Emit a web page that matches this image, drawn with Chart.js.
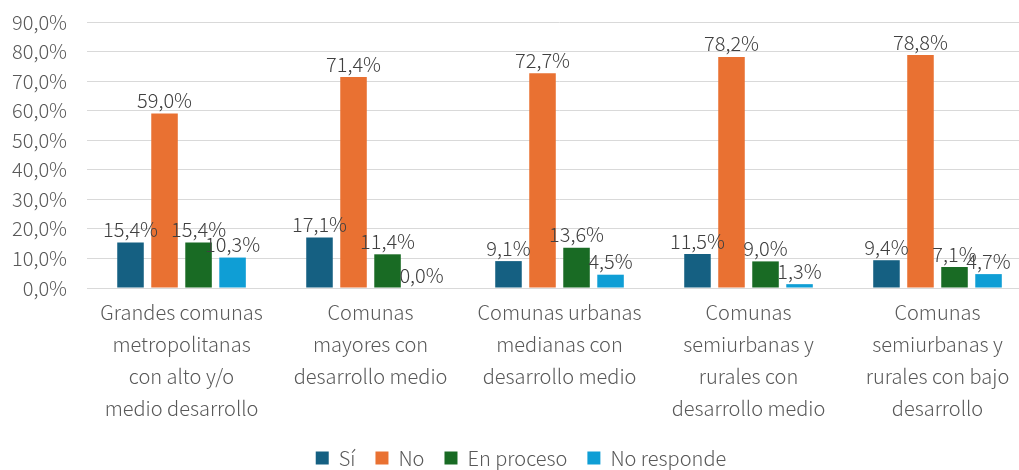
<!DOCTYPE html>
<html>
<head>
<meta charset="utf-8">
<script src="https://cdn.jsdelivr.net/npm/chart.js@4"></script>
<style>
  html, body { margin: 0; padding: 0; background: #fff; overflow: hidden; }
  #wrap { position: relative; width: 1045px; height: 470px; }
</style>
</head>
<body>
<div id="wrap"><canvas id="chart"></canvas></div>
<script>
// categories (wrapped the way the reference wraps them)
const categories = [
  ["Grandes comunas", "metropolitanas", "con alto y/o", "medio desarrollo"],
  ["Comunas", "mayores con", "desarrollo medio"],
  ["Comunas urbanas", "medianas con", "desarrollo medio"],
  ["Comunas", "semiurbanas y", "rurales con", "desarrollo medio"],
  ["Comunas", "semiurbanas y", "rurales con bajo", "desarrollo"]
];

const si = [15.4, 17.1, 9.1, 11.5, 9.4];
const no = [59.0, 71.4, 72.7, 78.2, 78.8];
const enProceso = [15.4, 11.4, 13.6, 9.0, 7.1];
const noResponde = [10.3, 0.0, 4.5, 1.3, 4.7];

const fontName = '"Noto Sans CJK SC", "Liberation Sans", sans-serif';
const pct = v => v.toFixed(1).replace('.', ',') + '%';

// slightly spaced lettering like the original
const spacing = {
  id: 'spacing',
  beforeInit(chart) { chart.ctx.letterSpacing = '0.6px'; }
};

// labels over the bars
const barLabels = {
  id: 'barLabels',
  afterDatasetsDraw(chart) {
    const ctx = chart.ctx;
    ctx.save();
    ctx.letterSpacing = '0px';
    ctx.font = '300 20px ' + fontName;
    ctx.fillStyle = '#404040';
    ctx.textAlign = 'center';
    ctx.textBaseline = 'bottom';
    chart.data.datasets.forEach((ds, i) => {
      chart.getDatasetMeta(i).data.forEach((bar, j) => {
        ctx.fillText(pct(ds.data[j]), bar.x, bar.y - 3);
      });
    });
    ctx.restore();
  }
};

new Chart(document.getElementById('chart'), {
  type: 'bar',
  data: {
    labels: categories,
    datasets: [
      { label: 'Sí', data: si, backgroundColor: '#156082' },
      { label: 'No', data: no, backgroundColor: '#E97132' },
      { label: 'En proceso', data: enProceso, backgroundColor: '#196B24' },
      { label: 'No responde', data: noResponde, backgroundColor: '#0F9ED5' }
    ]
  },
  options: {
    responsive: true,
    maintainAspectRatio: false,
    animation: false,
    datasets: {
      bar: { categoryPercentage: 0.72, barPercentage: 0.78 }
    },
    layout: { padding: { top: 22, right: 13, left: 10, bottom: -8 } },
    scales: {
      x: {
        grid: { display: false },
        border: { color: '#d9d9d9' },
        afterFit: s => { s.height += 4; },
        ticks: {
          color: '#595959',
          font: { family: fontName, size: 20, weight: '300', lineHeight: 1.6 },
          maxRotation: 0,
          autoSkip: false,
          padding: 0
        }
      },
      y: {
        min: 0,
        max: 90,
        border: { display: false },
        grid: { color: '#d9d9d9', tickLength: 18, tickColor: 'transparent' },
        ticks: {
          stepSize: 10,
          color: '#595959',
          font: { family: fontName, size: 20, weight: '300' },
          padding: 2,
          callback: v => pct(v)
        }
      }
    },
    plugins: {
      legend: {
        position: 'bottom',
        labels: {
          color: '#595959',
          font: { family: fontName, size: 20, weight: '300' },
          boxWidth: 13,
          boxHeight: 13,
          padding: 20
        }
      },
      tooltip: { enabled: false }
    }
  },
  plugins: [spacing, barLabels]
});
</script>
</body>
</html>
